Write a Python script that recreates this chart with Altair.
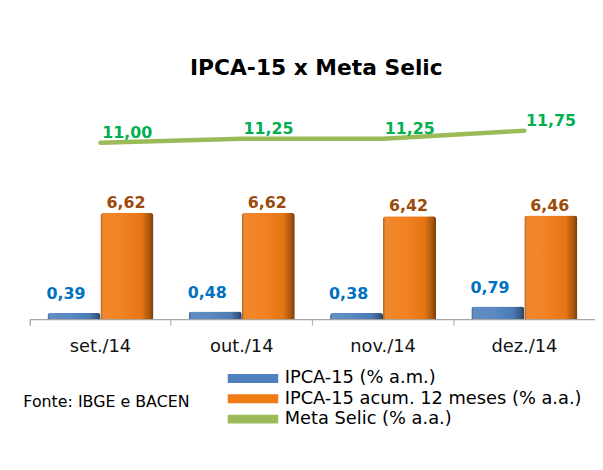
import altair as alt
import pandas as pd

# ---- data ----
meses = ["set./14", "out./14", "nov./14", "dez./14"]
ipca15_am = [0.39, 0.48, 0.38, 0.79]
ipca15_12m = [6.62, 6.62, 6.42, 6.46]
meta_selic = [11.00, 11.25, 11.25, 11.75]

serie_names = ["IPCA-15 (% a.m.)", "IPCA-15 acum. 12 meses (% a.a.)", "Meta Selic (% a.a.)"]
serie_colors = ["#4F81BD", "#F07A14", "#9BBB59"]


def fmt(v):
    return f"{v:.2f}".replace(".", ",")


bars_df = pd.DataFrame(
    [{"mes": m, "serie": serie_names[0], "valor": v, "rotulo": fmt(v)} for m, v in zip(meses, ipca15_am)]
    + [{"mes": m, "serie": serie_names[1], "valor": v, "rotulo": fmt(v)} for m, v in zip(meses, ipca15_12m)]
)
selic_df = pd.DataFrame(
    {"mes": meses, "serie": serie_names[2], "valor": meta_selic, "rotulo": [fmt(v) for v in meta_selic]}
)

FONT = "DejaVu Sans"
W, H = 571, 220
YMAX = 13.58
LEG_RECT = "M-5.67,-1H5.67V1H-5.67Z"

x_enc = alt.X(
    "mes:N",
    sort=meses,
    scale=alt.Scale(paddingInner=0, paddingOuter=0),
    axis=alt.Axis(
        title="Fonte: IBGE e BACEN",
        titleX=-7,
        titleY=83,
        titleAlign="left",
        titleBaseline="middle",
        titleFont=FONT,
        titleFontSize=16,
        titleFontWeight="normal",
        titleColor="#000000",
        labelFont=FONT,
        labelFontSize=18,
        labelColor="#111111",
        labelAngle=0,
        labelPadding=13,
        tickSize=6,
        tickColor="#A6A6A6",
        domainColor="#A6A6A6",
        domainWidth=1.2,
        bandPosition=0,
        tickExtra=True,
        grid=False,
    ),
)
y_scale = alt.Scale(domain=[0, YMAX], nice=False, zero=True)
y_enc = alt.Y("valor:Q", scale=y_scale, axis=None)
xoff = alt.XOffset("serie:N", sort=serie_names[:2], scale=alt.Scale(paddingInner=0, paddingOuter=0.334))

color_enc = alt.Color(
    "serie:N",
    scale=alt.Scale(domain=serie_names, range=serie_colors),
    legend=alt.Legend(
        title=None,
        orient="none",
        legendX=196,
        legendY=271,
        padding=0,
        symbolType=LEG_RECT,
        symbolSize=81,
        symbolStrokeWidth=0,
        symbolOpacity=1,
        symbolOffset=20.5,
        labelFont=FONT,
        labelFontSize=18,
        labelColor="#000000",
        labelOffset=23,
        labelLimit=500,
        rowPadding=2.5,
    ),
)

shade = {
    "gradient": "linear", "x1": 0, "y1": 0, "x2": 1, "y2": 0,
    "stops": [
        {"offset": 0, "color": "rgba(0,0,0,0.35)"},
        {"offset": 0.06, "color": "rgba(255,255,255,0.10)"},
        {"offset": 0.45, "color": "rgba(255,255,255,0.06)"},
        {"offset": 0.78, "color": "rgba(0,0,0,0.04)"},
        {"offset": 0.93, "color": "rgba(0,0,0,0.30)"},
        {"offset": 1, "color": "rgba(0,0,0,0.50)"},
    ],
}

bars = alt.Chart(bars_df).mark_bar(cornerRadiusTopLeft=3, cornerRadiusTopRight=3).encode(
    x=x_enc, xOffset=xoff, y=y_enc, color=color_enc
)
bars_shade = alt.Chart(bars_df).mark_bar(cornerRadiusTopLeft=3, cornerRadiusTopRight=3, fill=shade).encode(
    x=x_enc, xOffset=xoff, y=y_enc
)

blue_txt = alt.Chart(bars_df).transform_filter(alt.datum.serie == serie_names[0]).mark_text(
    font=FONT, fontSize=16, fontWeight="bold", color="#0070C0", dx=-8, dy=-19, baseline="middle"
).encode(x=x_enc, xOffset=xoff, y=y_enc, text="rotulo:N")

orange_txt = alt.Chart(bars_df).transform_filter(alt.datum.serie == serie_names[1]).mark_text(
    font=FONT, fontSize=16, fontWeight="bold", color="#9C4A0A", dx=-1, dy=-10, baseline="middle"
).encode(x=x_enc, xOffset=xoff, y=y_enc, text="rotulo:N")

line = alt.Chart(selic_df).mark_line(strokeWidth=4.5, strokeCap="round").encode(
    x=x_enc, y=y_enc, color=color_enc
)

line_txt = alt.Chart(selic_df).mark_text(
    font=FONT, fontSize=16, fontWeight="bold", color="#00B050", dx=27, dy=-10, baseline="middle"
).encode(x=x_enc, y=y_enc, text="rotulo:N")

chart = alt.layer(bars, bars_shade, blue_txt, orange_txt, line, line_txt).properties(
    width=W,
    height=H,
    title=alt.Title(
        "IPCA-15 x Meta Selic",
        font=FONT,
        fontSize=22,
        fontWeight="bold",
        color="#000000",
        anchor="middle",
        dx=4,
        offset=5,
        baseline="alphabetic",
    ),
    padding={"left": 22, "top": 92, "right": 0, "bottom": 142},
    autosize=alt.AutoSizeParams(type="none"),
    background="white",
).configure_view(stroke=None)

chart.save("out.html", embed_options={"renderer": "svg", "actions": False})
